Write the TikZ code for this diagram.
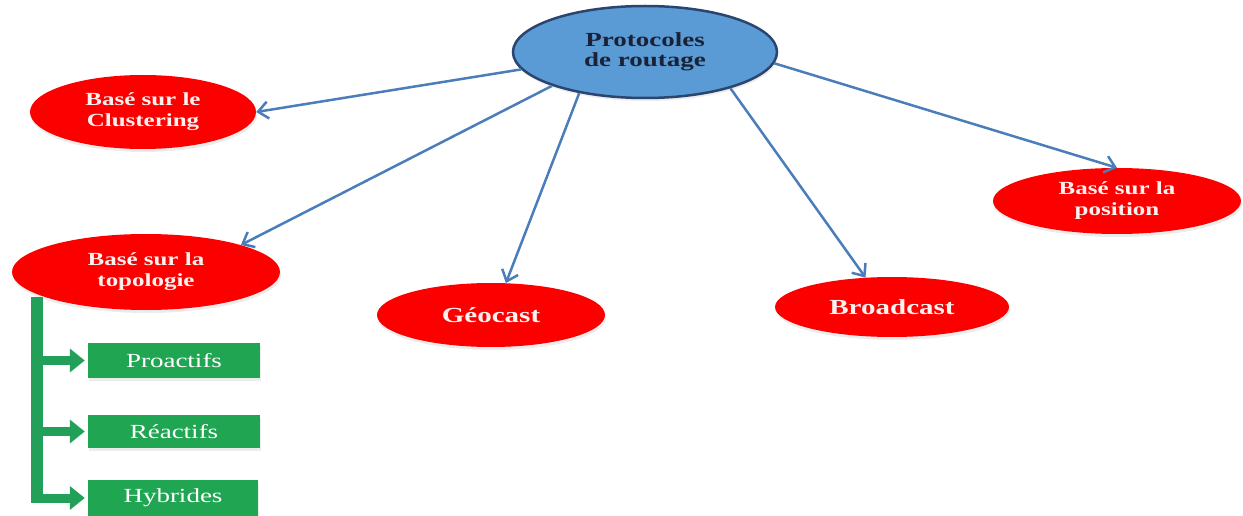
\documentclass[tikz,border=0pt]{standalone}
\usepackage{fontspec}
\newfontfamily\wideserif[FakeStretch=1.35]{Liberation Serif}
\usetikzlibrary{shapes.geometric,arrows.meta,shadows,calc}

\definecolor{rootfill}{HTML}{5B9BD5}
\definecolor{rootline}{HTML}{2A4670}
\definecolor{roottext}{HTML}{1A2238}
\definecolor{leafred}{HTML}{FC0000}
\definecolor{leaftext}{HTML}{FFF0F0}
\definecolor{linkblue}{HTML}{4A7DBA}
\definecolor{subgreen}{HTML}{20A552}
\definecolor{branchgreen}{HTML}{22A05A}
\definecolor{branchedge}{HTML}{2F8A78}

\begin{document}
\begin{tikzpicture}[x=1pt,y=-1pt,
  softshadow/.style={drop shadow={shadow xshift=1pt,shadow yshift=-3pt,opacity=0.15}},
  root/.style={ellipse,draw=rootline,line width=2.5pt,fill=rootfill,text=roottext,
    inner sep=0pt,align=center,softshadow,
    font=\wideserif\bfseries\fontsize{20}{20}\selectfont},
  leaf/.style={ellipse,fill=leafred,text=leaftext,inner sep=0pt,align=center,softshadow,
    font=\wideserif\bfseries\fontsize{18.5}{21}\selectfont},
  bigleaf/.style={leaf,font=\wideserif\bfseries\fontsize{21.5}{22}\selectfont},
  subbox/.style={rectangle,fill=subgreen,text=white,inner sep=0pt,softshadow,
    font=\wideserif\fontsize{20}{20}\selectfont},
  link/.style={draw=linkblue,line width=2.5pt,-{Straight Barb[length=10pt,width=17pt]}},
  trunkline/.style={draw=branchgreen,line width=12pt},
  branch/.style={draw=branchgreen,line width=9pt,shorten >=3pt,
    -{Triangle[width=23pt,length=15pt]}}]

\useasboundingbox (0,0) rectangle (1243,516);

% main categories
\node[root,minimum width=264pt,minimum height=92pt] (proto) at (645,52)
  {Protocoles\\de routage};
\node[leaf,minimum width=226pt,minimum height=74pt] (clust) at (143,112)
  {Basé sur le\\Clustering};
\node[leaf,minimum width=268pt,minimum height=76pt] (topo) at (146,272)
  {Basé sur la\\topologie};
\node[bigleaf,minimum width=228pt,minimum height=64pt] (geo) at (491,315) {Géocast};
\node[bigleaf,minimum width=234pt,minimum height=60pt] (bc) at (892,307) {Broadcast};
\node[leaf,minimum width=248pt,minimum height=66pt] (pos) at (1117,201)
  {Basé sur la\\position};

% sub-types of topology-based routing
\node[subbox,minimum width=172pt,minimum height=35pt] (pro) at (174,360.5) {Proactifs};
\node[subbox,minimum width=172pt,minimum height=33pt] (rea) at (174,431.5) {Réactifs};
\node[subbox,minimum width=170pt,minimum height=36pt] (hyb) at (173,498) {Hybrides};

% links from the root
\draw[link] (proto.188) -- (clust.east);
\draw[link] (proto.200) -- (topo.north east);
\draw[link] (proto.212) -- (geo.65);
\draw[link] (proto.337) -- (bc.132);
\draw[link] (proto.355) -- (pos.north);

% green tree below the topology node
\coordinate (trunk) at (37,297);
\draw[trunkline] (trunk) -- ($(trunk |- hyb.west)+(0,4.5)$);
\draw[branch] (trunk |- pro.west) -- (pro.west);
\draw[branch] (trunk |- rea.west) -- (rea.west);
\draw[branch] (trunk |- hyb.west) -- (hyb.west);
\end{tikzpicture}
\end{document}
